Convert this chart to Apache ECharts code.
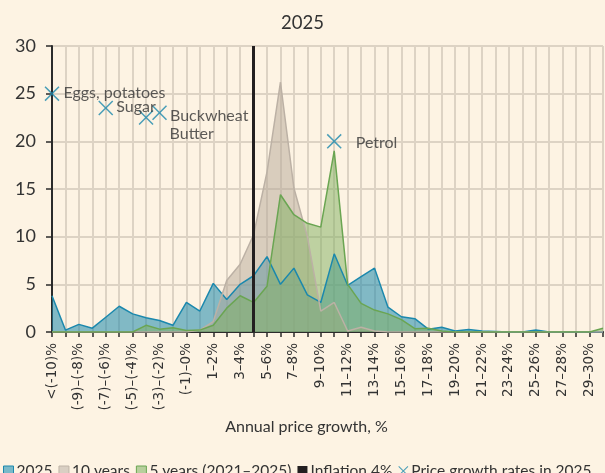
<!DOCTYPE html>
<html>
<head>
<meta charset="utf-8">
<style>
  html, body { margin: 0; padding: 0; background: #fdf3e3; }
  #main { width: 605px; height: 473px; }
</style>
<script src="https://cdn.jsdelivr.net/npm/echarts@6/dist/echarts.min.js"></script>
</head>
<body>
<div id="main"></div>
<script>
// categories of annual price growth
const categories = [
  '<(-10)%', '(-10)–(-9)%', '(-9)–(-8)%', '(-8)–(-7)%', '(-7)–(-6)%', '(-6)–(-5)%',
  '(-5)–(-4)%', '(-4)–(-3)%', '(-3)–(-2)%', '(-2)–(-1)%', '(-1)–0%',
  '0–1%', '1–2%', '2–3%', '3–4%', '4–5%', '5–6%', '6–7%', '7–8%', '8–9%', '9–10%',
  '10–11%', '11–12%', '12–13%', '13–14%', '14–15%', '15–16%', '16–17%', '17–18%',
  '18–19%', '19–20%', '20–21%', '21–22%', '22–23%', '23–24%', '24–25%', '25–26%',
  '26–27%', '27–28%', '28–29%', '29–30%', '>30%'
];

// share of goods, %
const year2025 = [3.8, 0.2, 0.8, 0.4, 1.55, 2.7, 1.9, 1.5, 1.2, 0.7, 3.1, 2.2, 5.1, 3.4, 5.0, 5.9,
  7.9, 5.0, 6.7, 3.9, 3.1, 8.2, 4.9, 5.8, 6.7, 2.6, 1.6, 1.4, 0.3, 0.5, 0.1, 0.25, 0.1, 0.05,
  0, 0, 0.2, 0, 0, 0, 0, 0];
const years10 = [0, 0, 0, 0, 0, 0, 0, 0, 0, 0, 0, 0.2, 1.1, 5.4, 7.1, 10.2, 16.8, 26.2, 15.1,
  10.0, 2.2, 3.1, 0.1, 0.5, 0.1, 0, 0, 0, 0, 0, 0, 0, 0, 0, 0, 0, 0, 0, 0, 0, 0, 0];
const years5 = [0, 0, 0, 0, 0, 0, 0, 0.7, 0.3, 0.45, 0.15, 0.2, 0.7, 2.5, 3.8, 3.1, 4.8, 14.4,
  12.3, 11.4, 11.0, 19.0, 5.0, 3.0, 2.3, 1.9, 1.3, 0.35, 0.4, 0.1, 0, 0, 0, 0, 0, 0, 0, 0, 0,
  0, 0, 0.4];

const inflationCategory = '4–5%';

// individual goods: [category index, value]
const goodsNames = ['Eggs, potatoes', 'Sugar', 'Butter', 'Buckwheat', 'Petrol'];
const goodsPoints = [[0, 25], [4, 23.5], [7, 22.5], [8, 23], [21, 20]];
const goodsLabelOffsets = [[0, -1], [-1, -1], [12, 16], [-1, 3], [10, 2]];

const FONT = 'Lato';
const TXT = '#333';
const CROSS = 'path://M0.7,0 L5,4.3 L9.3,0 L10,0.7 L5.7,5 L10,9.3 L9.3,10 L5,5.7 L0.7,10 L0,9.3 L4.3,5 L0,0.7 Z';

const chart = echarts.init(document.getElementById('main'));

function areaSeries(name, data, line, fill, opacity) {
  return {
    name: name,
    type: 'line',
    data: data,
    symbol: 'none',
    lineStyle: { color: line, width: 1.5 },
    itemStyle: { color: fill, borderColor: line },
    areaStyle: { color: fill, opacity: opacity },
    z: 2
  };
}

chart.setOption({
  backgroundColor: '#fdf3e3',
  textStyle: { fontFamily: FONT },
  title: {
    text: '2025',
    left: 'center',
    top: 9,
    textStyle: { fontFamily: FONT, fontSize: 18.5, fontWeight: 'normal', color: TXT }
  },
  grid: { left: 52, right: 2, top: 46, bottom: 141, containLabel: false },
  legend: {
    left: 3,
    top: 458,
    width: 700,
    padding: [5, 0, 5, 0],
    itemWidth: 10,
    itemHeight: 10,
    itemGap: 6,
    textStyle: { fontFamily: FONT, fontSize: 15.5, color: TXT, padding: [0, 0, 0, -2] },
    data: [
      { name: '2025', icon: 'rect', itemStyle: { color: '#7ab9c9', borderColor: '#1b88ad', borderWidth: 1 } },
      { name: '10 years', icon: 'rect', itemStyle: { color: '#d9cfc3', borderColor: '#bfb4a8', borderWidth: 1 } },
      { name: '5 years (2021–2025)', icon: 'rect', itemStyle: { color: '#b7cf9c', borderColor: '#6aa552', borderWidth: 1 } },
      { name: 'Inflation 4%', icon: 'rect', itemStyle: { color: '#231f20' } },
      { name: 'Price growth rates in 2025', icon: CROSS, itemStyle: { color: '#1b88ad' } }
    ]
  },
  xAxis: {
    type: 'category',
    data: categories,
    boundaryGap: false,
    name: 'Annual price growth, %',
    nameLocation: 'middle',
    nameGap: 83,
    nameTextStyle: { fontFamily: FONT, fontSize: 16, color: TXT, padding: [0, 42, 0, 0] },
    axisLine: { lineStyle: { color: '#2b2b2b', width: 2 } },
    axisTick: { show: true, interval: 0, length: 5, lineStyle: { color: '#2b2b2b', width: 1.5 } },
    axisLabel: { interval: 1, rotate: 90, fontFamily: 'DejaVu Sans', fontSize: 13.5, color: TXT, margin: 11 },
    splitLine: { show: true, interval: 0, lineStyle: { color: '#ddd3c4', width: 2 } }
  },
  yAxis: {
    type: 'value',
    min: 0,
    max: 30,
    interval: 5,
    axisLine: { show: true, lineStyle: { color: '#2b2b2b', width: 2 } },
    axisTick: { show: true, length: 6, lineStyle: { color: '#2b2b2b', width: 1.5 } },
    axisLabel: { fontFamily: FONT, fontSize: 18, color: TXT, margin: 16 },
    splitLine: { show: true, lineStyle: { color: '#ddd3c4', width: 2 } }
  },
  series: [
    areaSeries('2025', year2025, '#1b88ad', '#1b88ad', 0.55),
    areaSeries('10 years', years10, '#bcb1a5', '#b5a898', 0.5),
    areaSeries('5 years (2021–2025)', years5, '#6aa552', '#7fb05f', 0.5),
    {
      name: 'Inflation 4%',
      type: 'line',
      data: [],
      itemStyle: { color: '#231f20' },
      markLine: {
        silent: true,
        symbol: 'none',
        label: { show: false },
        lineStyle: { color: '#231f20', width: 3, type: 'solid' },
        data: [{ xAxis: inflationCategory }]
      },
      z: 5
    },
    {
      name: 'Price growth rates in 2025',
      type: 'scatter',
      symbol: CROSS,
      symbolSize: 15,
      itemStyle: { color: '#1b88ad' },
      label: {
        show: true,
        position: 'right',
        distance: 4,
        fontFamily: FONT,
        fontSize: 16,
        color: TXT,
        formatter: p => p.name
      },
      data: goodsPoints.map((pt, i) => ({
        name: goodsNames[i],
        value: pt,
        label: { offset: goodsLabelOffsets[i] }
      })),
      z: 6
    }
  ]
});
</script>
</body>
</html>
